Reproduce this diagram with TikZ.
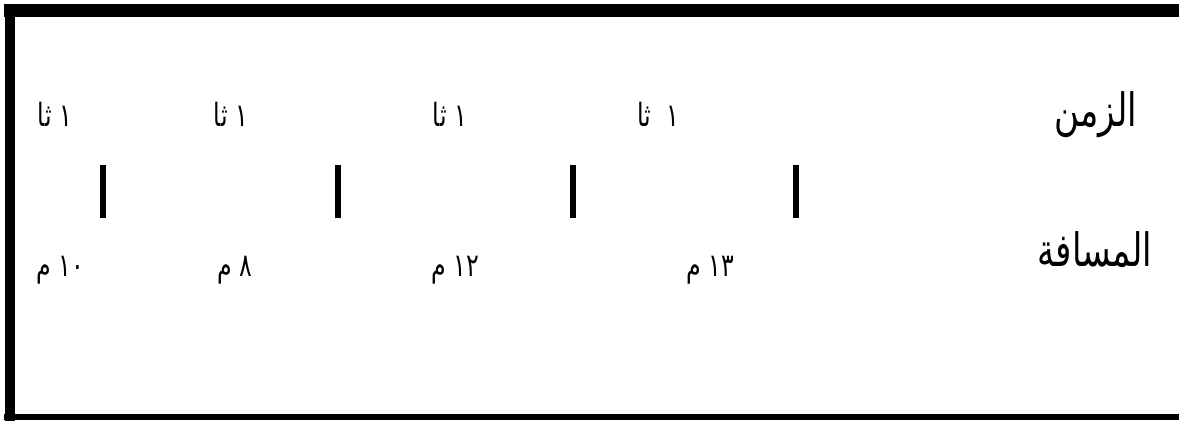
\documentclass[tikz,border=0pt]{standalone}
\usepackage{fontspec}
\usepackage{tikz}
\newfontfamily\arabicfont[Script=Arabic,FakeStretch=0.74]{DejaVu Sans}
\TeXXeTstate=1

\begin{document}
\begin{tikzpicture}[x=0.5pt,y=-0.5pt,
    secs/.style={font=\arabicfont\fontsize{16}{18}\selectfont, inner sep=0pt},
    dist/.style={font=\arabicfont\fontsize{16}{18}\selectfont, inner sep=0pt},
    rowname/.style={font=\arabicfont\fontsize{23}{26}\selectfont, inner sep=0pt},
    bar/.style={line width=3pt}]
    \useasboundingbox (0,0) rectangle (1179,422);

    % frame
    \draw[line width=5pt] (9.5,4) -- (9.5,421);
    \draw[line width=6.5pt] (4,10.5) -- (1179,10.5);
    \draw[line width=3pt] (4,417.5) -- (1179,417.5);

    % row names
    \node[rowname] (zaman) at (1096,115) {\beginR الزمن\endR};
    \node[rowname] (masafa) at (1095,250) {\beginR المسافة\endR};

    % time
    \node[secs] (t1) at (55,114) {\beginR ١ ثا\endR};
    \node[secs] (t2) at (231,114) {\beginR ١ ثا\endR};
    \node[secs] (t3) at (450,114) {\beginR ١ ثا\endR};
    \node[secs] (t4) at (658,114) {\beginR ١ \ ثا\endR};

    \draw[bar] (102.5,165) -- (102.5,218);
    \draw[bar] (337.5,165) -- (337.5,218);
    \draw[bar] (573,165) -- (573,218);
    \draw[bar] (796,165) -- (796,218);

    % distance
    \node[dist] (d1) at (60,270) {\beginR\beginL ١٠\endL{} م\endR};
    \node[dist] (d2) at (235,270) {\beginR ٨ م\endR};
    \node[dist] (d3) at (455,270) {\beginR\beginL ١٢\endL{} م\endR};
    \node[dist] (d4) at (710,270) {\beginR\beginL ١٣\endL{} م\endR};
\end{tikzpicture}
\end{document}
